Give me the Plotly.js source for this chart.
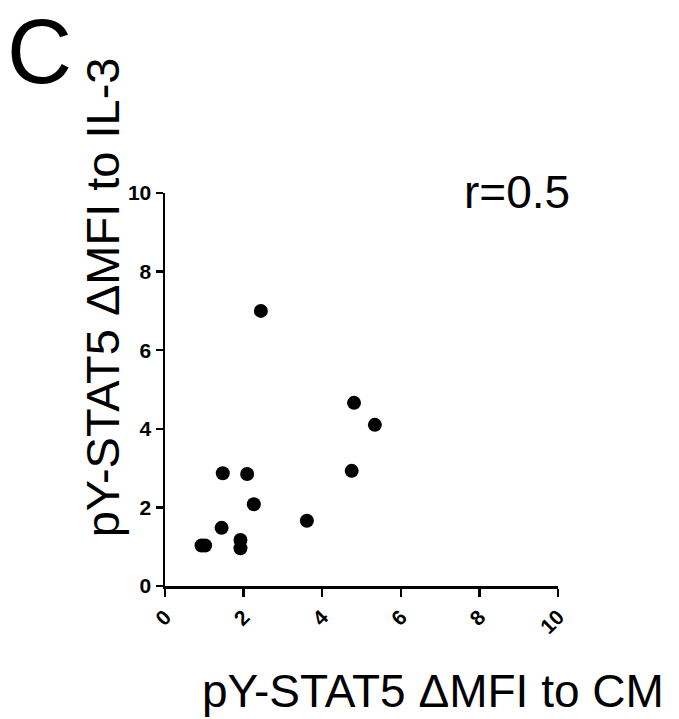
<!DOCTYPE html>
<html>
<head>
<meta charset="utf-8">
<script src="https://cdn.plot.ly/plotly-3.0.1.min.js"></script>
<style>html,body{margin:0;padding:0;background:#fff}#chart{width:679px;height:719px}</style>
</head>
<body>
<div id="chart"></div>
<script>
// Data
const cmValues  = [2.44, 4.81, 5.34, 4.75, 1.47, 2.09, 2.26, 3.61, 1.44, 0.93, 1.02, 1.92, 1.92];
const il3Values = [7.00, 4.66, 4.10, 2.93, 2.87, 2.85, 2.08, 1.66, 1.48, 1.03, 1.03, 1.17, 0.96];
const tickVals = [0, 2, 4, 6, 8, 10];
const tickText = ['0', '2', '4', '6', '8', '10'];
const xTitle = 'pY-STAT5 \u0394MFI to CM';
const yTitle = 'pY-STAT5 \u0394MFI to IL-3';
const panelLabel = 'C';
const corrLabel = 'r=0.5';

const font = 'Liberation Sans, Arial, sans-serif';

const trace = {
  x: cmValues, y: il3Values, type: 'scatter', mode: 'markers',
  marker: {color: '#000', size: 14, line: {width: 0}},
  hoverinfo: 'none'
};

const axisCommon = {
  range: [0, 10], tickvals: tickVals, ticktext: tickText,
  showgrid: false, zeroline: false, showline: true,
  linecolor: '#000', linewidth: 2.5, ticks: 'outside', ticklen: 8,
  tickwidth: 2.5, tickcolor: '#000',
  tickfont: {family: font, size: 21, color: '#000', weight: 'bold'}
};

const layout = {
  width: 679, height: 719,
  margin: {l: 165, r: 121, t: 193, b: 133},
  paper_bgcolor: '#fff', plot_bgcolor: '#fff',
  showlegend: false,
  xaxis: Object.assign({}, axisCommon, {tickangle: -45}),
  yaxis: Object.assign({}, axisCommon, {ticklen: 7}),
  annotations: [
    {text: panelLabel, xref: 'paper', yref: 'paper', x: -0.3206, y: 1.491,
     xanchor: 'center', yanchor: 'top', showarrow: false,
     font: {family: font, size: 90, color: '#000'}},
    {text: corrLabel, xref: 'paper', yref: 'paper', x: 0.896, y: 1.003,
     xanchor: 'center', yanchor: 'middle', showarrow: false,
     font: {family: font, size: 46, color: '#000'}},
    {text: xTitle, xref: 'paper', yref: 'paper', x: 0.682, y: -0.3384,
     xanchor: 'center', yanchor: 'bottom', showarrow: false,
     font: {family: font, size: 46, color: '#000'}},
    {text: yTitle, xref: 'paper', yref: 'paper', x: -0.160, y: 0.735,
     xanchor: 'center', yanchor: 'middle', showarrow: false, textangle: -90,
     font: {family: font, size: 47, color: '#000'}}
  ]
};

Plotly.newPlot('chart', [trace], layout, {displayModeBar: false, staticPlot: true});
</script>
</body>
</html>
